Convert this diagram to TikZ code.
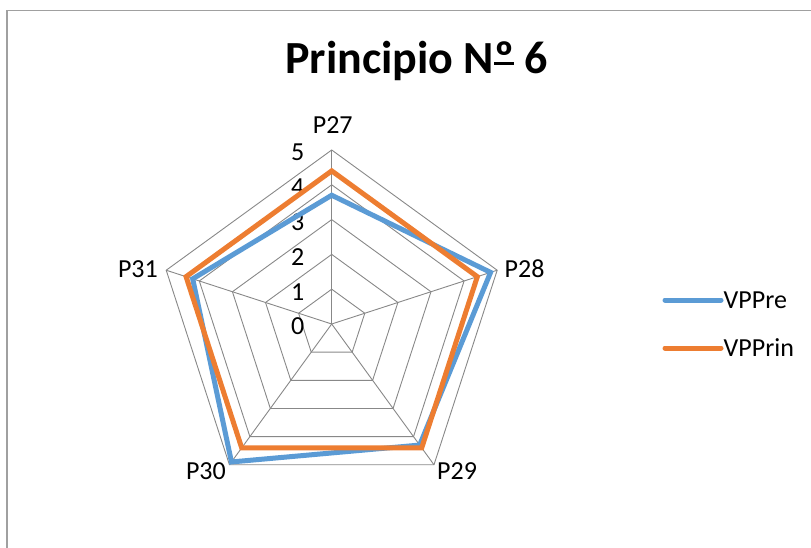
\documentclass[tikz,border=0pt]{standalone}
\usepackage{fontspec}
\setmainfont{Carlito}
\definecolor{blueS}{HTML}{5B9BD5}
\definecolor{orangeS}{HTML}{ED7D31}
\definecolor{gridc}{HTML}{888888}
\definecolor{framec}{HTML}{A0A0A0}
\tikzset{
  gridline/.style={draw=gridc, line width=0.9pt},
  series/.style={line width=5pt, line join=miter},
  lab/.style={inner sep=0pt, font=\fontsize{26}{30}\selectfont},
  legline/.style={line width=5pt, line cap=round}
}
\newcommand{\ordo}{\leavevmode\setbox0\hbox{º}\rlap{º}\raisebox{0.19em}{\rule{\wd0}{0.06em}}}
\begin{document}
\begin{tikzpicture}[x=1pt,y=-1pt]
\useasboundingbox (0,0) rectangle (811,548);
\draw[framec, line width=1.3pt] (7,548) -- (7,10.5) -- (811,10.5);
\def\cx{331.7}
\def\cy{324}
\def\u{34.8}
\coordinate (c) at (\cx,\cy);
% grid pentagons
\foreach \k in {1,...,5} {
  \draw[gridline] ({\cx+\k*\u*cos(90)},{\cy-\k*\u*sin(90)})
    -- ({\cx+\k*\u*cos(18)},{\cy-\k*\u*sin(18)})
    -- ({\cx+\k*\u*cos(-54)},{\cy-\k*\u*sin(-54)})
    -- ({\cx+\k*\u*cos(-126)},{\cy-\k*\u*sin(-126)})
    -- ({\cx+\k*\u*cos(162)},{\cy-\k*\u*sin(162)}) -- cycle;
}
% spokes
\foreach \i/\a in {1/90,2/18,3/-54,4/-126,5/162} {
  \coordinate (ax\i) at ({\cx+5*\u*cos(\a)},{\cy-5*\u*sin(\a)});
  \draw[gridline] (c) -- (ax\i);
}
% axis value labels
\foreach \k in {0,...,5} {
  \node[lab, anchor=east] (v\k) at (304.5,{\cy-\k*\u+2.5}) {\k};
}
% series coordinates
\foreach \i/\a/\b/\o in {1/90/3.7/4.4,2/18/4.8/4.4,3/-54/4.3/4.4,4/-126/4.9/4.4,5/162/4.2/4.4} {
  \coordinate (b\i) at ({\cx+\b*\u*cos(\a)},{\cy-\b*\u*sin(\a)});
  \coordinate (o\i) at ({\cx+\o*\u*cos(\a)},{\cy-\o*\u*sin(\a)});
}
\draw[series, blueS] (b1) -- (b2) -- (b3) -- (b4) -- (b5) -- cycle;
\draw[series, orangeS] (o1) -- (o2) -- (o3) -- (o4) -- (o5) -- cycle;
% category labels
\node[lab, anchor=center] (p27) at (332.7,125) {P27};
\node[lab, anchor=west] (p28) at (504.5,269) {P28};
\node[lab, anchor=west] (p29) at (437,471) {P29};
\node[lab, anchor=east] (p30) at (226,471) {P30};
\node[lab, anchor=east] (p31) at (158,269) {P31};
% title
\node[inner sep=0pt, anchor=base, font=\fontsize{46}{50}\selectfont\bfseries] (title) at (416.7,74) {Principio N\ordo\ 6};
% legend
\coordinate (lb1) at (665,300);
\coordinate (lb2) at (721,300);
\coordinate (lo1) at (665,348);
\coordinate (lo2) at (721,348);
\draw[legline, blueS] (lb1) -- (lb2);
\draw[legline, orangeS] (lo1) -- (lo2);
\node[lab, anchor=west] (lgb) at (723.5,300) {VPPre};
\node[lab, anchor=west] (lgo) at (723.5,348) {VPPrin};
\end{tikzpicture}
\end{document}
